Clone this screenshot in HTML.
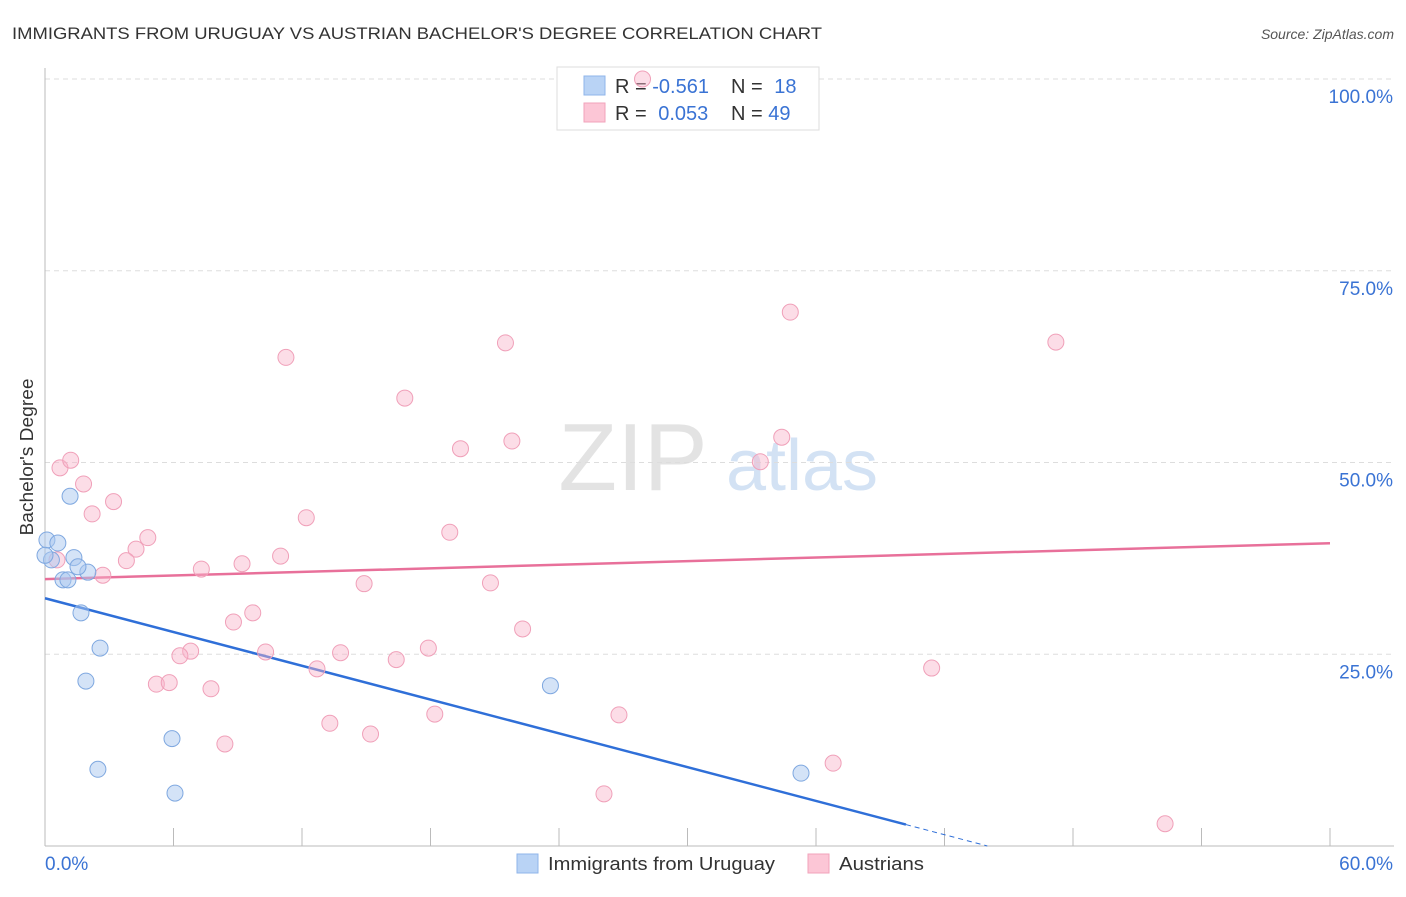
<!DOCTYPE html>
<html><head><meta charset="utf-8"><style>
body{margin:0;background:#fff;font-family:"Liberation Sans",sans-serif;}
svg text{font-family:"Liberation Sans",sans-serif;}
</style></head><body>
<svg id="c" width="1406" height="892" xmlns="http://www.w3.org/2000/svg">
<text x="12" y="39" font-size="17" fill="#333" textLength="810" lengthAdjust="spacingAndGlyphs">IMMIGRANTS FROM URUGUAY VS AUSTRIAN BACHELOR'S DEGREE CORRELATION CHART</text>
<text x="1394" y="39" font-size="14" fill="#555" font-style="italic" text-anchor="end">Source: ZipAtlas.com</text>
<text x="33" y="457" font-size="18" fill="#333" text-anchor="middle" textLength="157" lengthAdjust="spacingAndGlyphs" transform="rotate(-90 33 457)">Bachelor's Degree</text>
<g>
<text x="633" y="490" font-size="96" fill="#ddd" font-family="Liberation Serif" text-anchor="middle" opacity="0.8">ZIP</text>
<text x="802" y="490" font-size="72" fill="#c9dcf2" text-anchor="middle" opacity="0.8">atlas</text>
</g>
<g id="grid"></g><g id="axes"></g><g id="lines"></g>
<g>
<rect x="557" y="67" width="262" height="63" fill="#fff" stroke="#ddd"/>
<rect x="584" y="76" width="21" height="19" fill="#b9d3f5" stroke="#8fb5ea"/>
<rect x="584" y="103" width="21" height="19" fill="#fcc6d6" stroke="#f2a3bb"/>
<text x="615" y="93" font-size="20" fill="#333">R = <tspan fill="#3a73d4">-0.561</tspan></text>
<text x="731" y="93" font-size="20" fill="#333">N = <tspan fill="#3a73d4" dx="6">18</tspan></text>
<text x="615" y="120" font-size="20" fill="#333">R = <tspan fill="#3a73d4" dx="6">0.053</tspan></text>
<text x="731" y="120" font-size="20" fill="#333">N = <tspan fill="#3a73d4">49</tspan></text>
</g>
<g>
<rect x="517" y="854" width="21" height="19" fill="#b9d3f5" stroke="#8fb5ea"/>
<text x="548" y="870" font-size="18" fill="#333" textLength="227" lengthAdjust="spacingAndGlyphs">Immigrants from Uruguay</text>
<rect x="808" y="854" width="21" height="19" fill="#fcc6d6" stroke="#f2a3bb"/>
<text x="839" y="870" font-size="18" fill="#333" textLength="85" lengthAdjust="spacingAndGlyphs">Austrians</text>
</g>
<g id="pts"></g>
</svg>
<script>
const blueX=[0.09,0.6,0.3,1.35,0.84,1.07,2.0,1.54,1.17,1.68,2.57,1.91,5.93,2.47,6.07,23.6,35.3,0];
const blueY=[39.9,39.5,37.3,37.6,34.7,34.7,35.7,36.4,45.6,30.4,25.8,21.5,14.0,10.0,6.9,20.9,9.5,37.9];
const pinkX=[27.9,34.8,47.2,21.5,11.25,16.8,19.4,21.8,34.4,33.4,0.7,1.2,1.8,3.2,2.2,12.2,18.9,4.8,4.25,3.8,2.7,0.56,11.0,9.2,7.3,14.9,20.8,9.7,8.8,22.3,10.3,6.8,6.3,13.8,17.9,16.4,12.7,5.2,5.8,7.75,41.4,18.2,26.8,13.3,15.2,8.4,36.8,26.1,52.3];
const pinkY=[100.0,69.6,65.7,65.6,63.7,58.4,51.8,52.8,53.3,50.1,49.3,50.3,47.2,44.9,43.3,42.8,40.9,40.2,38.7,37.2,35.3,37.3,37.8,36.8,36.1,34.2,34.3,30.4,29.2,28.3,25.3,25.4,24.8,25.2,25.8,24.3,23.1,21.1,21.3,20.5,23.2,17.2,17.1,16.0,14.6,13.3,10.8,6.8,2.9];
const yTicks=[25,50,75,100];
const yTickLabels=["25.0%","50.0%","75.0%","100.0%"];
const blueTrend=[32.3,-0.734];
const pinkTrend=[34.8,0.078];
const NS="http://www.w3.org/2000/svg";
const X=v=>45+v/60*1285, Y=v=>846-v/100*767;
function mk(t,a,p){const e=document.createElementNS(NS,t);for(const k in a)e.setAttribute(k,a[k]);p.appendChild(e);return e;}
const grid=document.getElementById('grid'),axes=document.getElementById('axes'),lines=document.getElementById('lines'),pts=document.getElementById('pts');
yTicks.forEach((t,i)=>{
 const l=mk('line',{x1:45,x2:1394,y1:Y(t),y2:Y(t),stroke:'#ddd','stroke-dasharray':'5,4'},grid);
 
 
 const tx=mk('text',{x:1393,y:Y(t)+24,'font-size':19,fill:'#3a73d4','text-anchor':'end'},axes);
 tx.textContent=yTickLabels[i];
 
 
});
const ax=mk('line',{x1:45,x2:45,y1:68,y2:846,stroke:'#bbb'},axes);


const bx=mk('line',{x1:45,x2:1394,y1:846,y2:846,stroke:'#bbb'},axes);


for(let i=0;i<=10;i++){const t=mk('line',{x1:X(i*6),x2:X(i*6),y1:828,y2:846,stroke:'#bbb'},axes);
 
 }
[["0.0%",45,"start"],["60.0%",1393,"end"]].forEach(a=>{const t=mk('text',{x:a[1],y:870,'font-size':19,fill:'#3a73d4','text-anchor':a[2]},axes);t.textContent=a[0];
 
 });
const pl=mk('line',{x1:X(0),y1:Y(pinkTrend[0]),x2:X(60),y2:Y(pinkTrend[0]+pinkTrend[1]*60),stroke:'#e8709a','stroke-width':2.5},lines);


const bl=mk('line',{x1:X(0),y1:Y(blueTrend[0]),x2:X(40.2),y2:Y(blueTrend[0]+blueTrend[1]*40.2),stroke:'#2f6fd8','stroke-width':2.5},lines);


const bd=mk('line',{x1:X(40.2),y1:Y(blueTrend[0]+blueTrend[1]*40.2),x2:X(44),y2:Y(blueTrend[0]+blueTrend[1]*44),stroke:'#2f6fd8','stroke-width':1,'stroke-dasharray':'5,4'},lines);


pinkX.forEach((x,i)=>{const c=mk('circle',{cx:X(x),cy:Y(pinkY[i]),r:8,fill:'rgba(249,180,201,0.45)',stroke:'#f0a0b9','stroke-width':1},pts);
 
 });
blueX.forEach((x,i)=>{const c=mk('circle',{cx:X(x),cy:Y(blueY[i]),r:8,fill:'rgba(170,200,240,0.5)',stroke:'#7fa8e0','stroke-width':1},pts);
 
 });
</script>
</body></html>
